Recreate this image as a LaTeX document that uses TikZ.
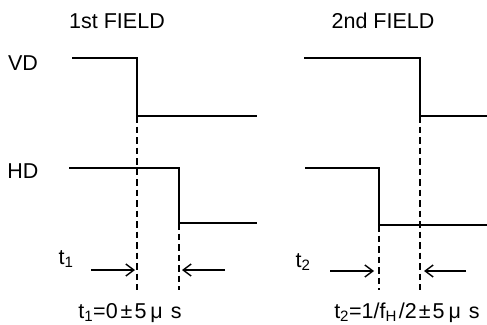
\documentclass[tikz,border=0pt]{standalone}
\usepackage{fontspec}
\setmainfont{Liberation Sans}
\usetikzlibrary{arrows.meta}

\begin{document}
\begin{tikzpicture}[x=1pt,y=-1pt,
    font=\fontsize{21.5}{25}\selectfont,
    wave/.style={line width=1.4pt},
    guide/.style={line width=1.1pt,dash pattern=on 6.5pt off 4pt},
    gap/.style={line width=1.4pt,-{Straight Barb[length=8pt,width=12pt,line width=1.4pt]}}]
    \useasboundingbox (0,0) rectangle (487,324);

    % titles and signal names
    \node (field1) at (117,21) {1st FIELD};
    \node (field2) at (383,21) {2nd FIELD};
    \node (vd) at (23,63) {VD};
    \node (hd) at (23,171) {HD};

    % edges of the two fields
    \coordinate (vd1a) at (72,58);
    \coordinate (vd1b) at (137,58);
    \coordinate (vd1c) at (257,116);
    \coordinate (hd1a) at (69,168);
    \coordinate (hd1b) at (179,168);
    \coordinate (hd1c) at (257,223);
    \coordinate (vd2a) at (304,58);
    \coordinate (vd2b) at (420,58);
    \coordinate (vd2c) at (487,116);
    \coordinate (hd2a) at (305,168);
    \coordinate (hd2b) at (379,168);
    \coordinate (hd2c) at (487,225);

    \draw[wave] (vd1a) -- (vd1b) |- (vd1c);
    \draw[wave] (hd1a) -- (hd1b) |- (hd1c);
    \draw[wave] (vd2a) -- (vd2b) |- (vd2c);
    \draw[wave] (hd2a) -- (hd2b) |- (hd2c);

    % dashed markers down to the arrows
    \coordinate (m1) at (137,290);
    \coordinate (m2) at (179,290);
    \coordinate (m3) at (379,290);
    \coordinate (m4) at (420,290);
    \draw[guide] (vd1b |- vd1c) -- (m1);
    \draw[guide] (hd1b |- hd1c) -- (m2);
    \draw[guide] (hd2b |- hd2c) -- (m3);
    \draw[guide] (vd2b |- vd2c) -- (m4);

    \coordinate (a1) at (91,270);
    \coordinate (a2) at (225,270);
    \coordinate (a3) at (330,271);
    \coordinate (a4) at (466,271);
    \draw[gap] (a1) -- ([xshift=-2pt]m1 |- a1);
    \draw[gap] (a2) -- ([xshift=3pt]m2 |- a2);
    \draw[gap] (a3) -- ([xshift=-5pt]m3 |- a3);
    \draw[gap] (a4) -- ([xshift=4pt]m4 |- a4);

    % timing labels
    \node (t1) at (66,259) {t\textsubscript{1}};
    \node (t2) at (303,262) {t\textsubscript{2}};
    \node[anchor=base] (t1val) at (130,318) {t\textsubscript{1}=0\hspace{3pt}±\hspace{2pt}5\hspace{4pt}μ\hspace{8pt}s};
    \node[anchor=base] (t2val) at (407,318) {t\textsubscript{2}=1/f\textsubscript{H}\hspace{2pt}/2\hspace{2pt}±\hspace{2pt}5\hspace{4pt}μ\hspace{8pt}s};
\end{tikzpicture}
\end{document}
